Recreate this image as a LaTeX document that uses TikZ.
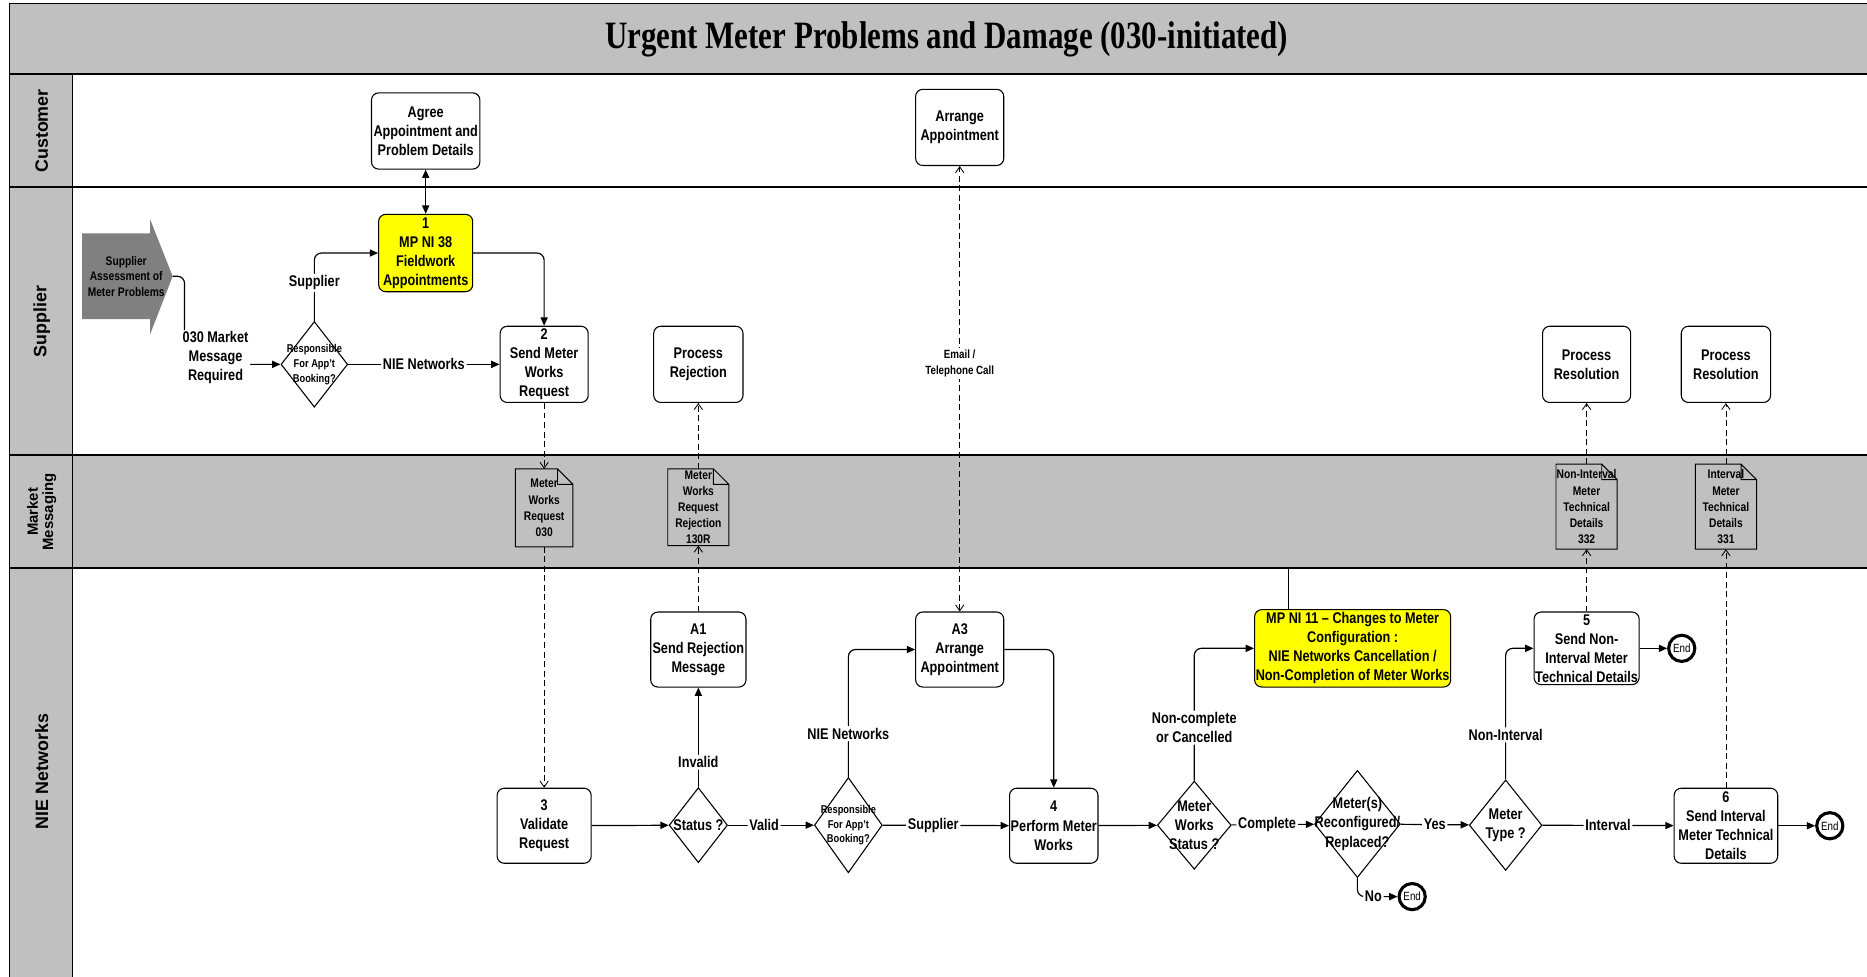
\documentclass[tikz,border=0pt]{standalone}
\usepackage{fontspec}
\setmainfont{Liberation Sans}[FakeStretch=0.82]
\newfontfamily\lanefont{Liberation Sans}
\newfontfamily\titlefont{Liberation Serif}[FakeStretch=0.8]
\usepackage{tikz}
\usetikzlibrary{shapes.geometric,positioning,arrows.meta}
\definecolor{lanegray}{RGB}{192,192,192}
\definecolor{startgray}{RGB}{128,128,128}
\definecolor{keyyellow}{RGB}{255,255,0}
\tikzset{
  mtr task/.style={rectangle, rounded corners=6pt, draw, line width=0.9pt, fill=white, align=center, inner sep=1pt, font=\fontsize{13}{16}\selectfont\bfseries},
  mtr key/.style={mtr task, fill=keyyellow},
  mtr decision/.style={diamond, draw, line width=0.9pt, fill=white, inner sep=0pt},
  mtr dectext/.style={align=center, inner sep=0pt, font=\fontsize{13}{16}\selectfont\bfseries},
  mtr small/.style={align=center, inner sep=0pt, font=\fontsize{9.5}{12.5}\selectfont\bfseries},
  mtr doc/.style={rectangle, fill=lanegray, align=center, inner sep=0pt, font=\fontsize{10.5}{13.5}\selectfont\bfseries},
  mtr end/.style={circle, draw, line width=2.6pt, fill=white, minimum size=22pt, inner sep=0pt, font=\fontsize{10}{12}\selectfont},
  mtr label/.style={fill=white, inner sep=1.5pt, align=center, font=\fontsize{13}{16}\selectfont\bfseries},
  mtr flow/.style={draw, line width=1pt, rounded corners=6pt, >={Triangle[length=7pt,width=6pt]}, ->},
  mtr msg/.style={draw, line width=0.7pt, dash pattern=on 5pt off 3pt, >={Straight Barb[length=5pt,width=7pt]}, ->},
  mtr lane/.style={rotate=90, align=center, font=\lanefont\bfseries}
}

\begin{document}
\begin{tikzpicture}[x=1pt, y=-1pt]
    \useasboundingbox (0,0) rectangle (1568,820);

    % Title
    \fill[lanegray] (8,3) rectangle (1570,62);
    \node[font=\titlefont\fontsize{32.5}{33}\selectfont\bfseries] (Title) at (795,33) {Urgent Meter Problems and Damage (030-initiated)};

    % Swim lanes
    \fill[lanegray] (8,62) rectangle (61,822);
    \fill[lanegray] (61,382) rectangle (1570,477);
    \draw[line width=1pt] (8,822) -- (8,3) -- (1570,3);
    \draw[line width=1.6pt] (8,62) -- (1570,62);
    \foreach \y in {157,382,477}
        \draw[line width=1.4pt] (8,\y) -- (1570,\y);
    \draw[line width=1pt] (61,62) -- (61,822);
    \node[mtr lane, font=\lanefont\fontsize{15}{15}\selectfont\bfseries] (LaneCust) at (35,110) {Customer};
    \node[mtr lane, font=\lanefont\fontsize{15}{15}\selectfont\bfseries] (LaneSupp) at (35,270) {Supplier};
    \node[mtr lane, font=\lanefont\fontsize{12.5}{13}\selectfont\bfseries] (LaneMsg) at (35,430) {Market\\Messaging};
    \node[mtr lane, font=\lanefont\fontsize{15}{15}\selectfont\bfseries] (LaneNie) at (35,648) {NIE Networks};

    % Customer
    \node[mtr task, minimum width=91, minimum height=64] (Agree) at (357.5,110) {Agree\\Appointment and\\Problem Details};
    \node[mtr task, minimum width=74, minimum height=64] (ArrCust) at (806,107) {Arrange\\Appointment};

    % Supplier
    \fill[startgray] (69,196) -- (126,196) -- (126,184) -- (145,232) -- (126,281) -- (126,268) -- (69,268) -- cycle;
    \node[mtr small, font=\fontsize{10.5}{13}\selectfont\bfseries] (Start) at (106,232) {Supplier\\Assessment of\\Meter Problems};
    \coordinate (StartTip) at (145,232);
    \node[mtr key, minimum width=79, minimum height=65] (Fw) at (357.5,212.5) {1\\MP NI 38\\Fieldwork\\Appointments};
    \node[mtr decision, minimum width=56, minimum height=72, label={[mtr small]center:{Responsible\\For App't\\Booking?}}] (Resp1) at (264,306) {};
    \node[mtr task, minimum width=74, minimum height=64] (Swr) at (457,306) {2\\Send Meter\\Works\\Request};
    \node[mtr task, minimum width=75, minimum height=64] (ProcRej) at (586.5,306) {Process\\Rejection};
    \node[mtr task, minimum width=74, minimum height=64] (ProcRes1) at (1332.5,306) {Process\\Resolution};
    \node[mtr task, minimum width=75, minimum height=64] (ProcRes2) at (1449.5,306) {Process\\Resolution};

    % Market messages
    \node[mtr doc, minimum width=48, minimum height=65] (Msg030) at (457,426.5) {Meter\\Works\\Request\\030};
    \node[mtr doc, minimum width=51, minimum height=64] (Msg130R) at (586.5,426) {Meter\\Works\\Request\\Rejection\\130R};
    \node[mtr doc, minimum width=51, minimum height=71] (Msg332) at (1332.5,425.5) {Non-Interval\\Meter\\Technical\\Details\\332};
    \node[mtr doc, minimum width=51, minimum height=71] (Msg331) at (1449.5,425.5) {Interval\\Meter\\Technical\\Details\\331};
    \foreach \m in {Msg030,Msg130R,Msg332,Msg331}
        \draw[line width=0.8pt] (\m.north west) -- ([xshift=-13pt]\m.north east) -- ([yshift=-13pt]\m.north east)
            -- (\m.south east) -- (\m.south west) -- cycle
            ([xshift=-13pt]\m.north east) -- ([xshift=-13pt,yshift=-13pt]\m.north east) -- ([yshift=-13pt]\m.north east);

    % NIE Networks
    \node[mtr task, minimum width=79, minimum height=63] (Val) at (457,693.5) {3\\Validate\\Request};
    \node[mtr decision, minimum width=49, minimum height=63, label={[mtr dectext]center:Status ?}] (Stat) at (586.5,693) {};
    \node[mtr task, minimum width=80, minimum height=63] (Rej) at (586.5,545.5) {A1\\Send Rejection\\Message};
    \node[mtr decision, minimum width=57, minimum height=80, label={[mtr small]center:{Responsible\\For App't\\Booking?}}] (Resp2) at (712.5,693) {};
    \node[mtr task, minimum width=74, minimum height=63] (Arr) at (806,545.5) {A3\\Arrange\\Appointment};
    \node[mtr task, minimum width=74, minimum height=63] (Perf) at (885,693.5) {4\\Perform Meter\\Works};
    \node[mtr decision, minimum width=62, minimum height=74, label={[mtr dectext]center:{Meter\\Works\\Status ?}}] (Mws) at (1003,693) {};
    \node[mtr key, minimum width=160, minimum height=65] (Chg) at (1136,544.5) {MP NI 11 – Changes to Meter\\Configuration :\\NIE Networks Cancellation /\\Non-Completion of Meter Works};
    \coordinate (ChgTop) at (1082,477);
    \node[mtr decision, minimum width=72, minimum height=90, label={[mtr dectext]center:{Meter(s)\\Reconfigured/\\Replaced?}}] (Reconf) at (1140,692) {};
    \node[mtr end] (EndNo) at (1186,753) {End};
    \node[mtr decision, minimum width=61, minimum height=76, label={[mtr dectext]center:{Meter\\Type ?}}] (Type) at (1264.5,693) {};
    \node[mtr task, minimum width=87, minimum height=61] (NonInt) at (1332.5,544.5) {5\\Send Non-\\Interval Meter\\Technical Details};
    \node[mtr task, minimum width=87, minimum height=63] (Int) at (1449.5,693.5) {6\\Send Interval\\Meter Technical\\Details};
    \node[mtr end, right=23pt of NonInt] (End5) {End};
    \node[mtr end, right=31pt of Int] (End6) {End};

    % Connections
    \draw[mtr flow, <->] (Agree) -- (Fw);
    \draw[mtr flow] (StartTip) -- ++(10,0) |- (Resp1.west)
        node[mtr label, at={(181,300)}] (MsgReq) {030 Market\\Message\\Required};
    \draw[mtr flow] (Resp1.north) |- (Fw.west) node[mtr label, pos=0.28] {Supplier};
    \draw[mtr flow] (Resp1) -- (Swr) node[mtr label, midway] {NIE Networks};
    \draw[mtr flow] (Fw.east) -| (Swr.north);
    \draw[mtr flow] (Val) -- (Stat);
    \draw[mtr flow] (Stat) -- (Rej) node[mtr label, pos=0.25] {Invalid};
    \draw[mtr flow] (Stat) -- (Resp2) node[mtr label, pos=0.42] {Valid};
    \draw[mtr flow] (Resp2.north) |- (Arr.west) node[mtr label, pos=0.17] {NIE Networks};
    \draw[mtr flow] (Resp2) -- (Perf) node[mtr label, pos=0.4] {Supplier};
    \draw[mtr flow] (Arr.east) -| (Perf.north);
    \draw[mtr flow] (Perf) -- (Mws);
    \draw[mtr flow] (Mws.north) |- (Chg.west) node[mtr label, pos=0.2] {Non-complete\\or Cancelled};
    \draw[line width=0.9pt] (Chg.north -| ChgTop) -- (ChgTop);
    \draw[mtr flow] (Mws) -- (Reconf) node[mtr label, pos=0.43] {Complete};
    \draw[mtr flow] (Reconf.south) |- (EndNo.west) node[mtr label, pos=0.7] {No};
    \draw[mtr flow] (Reconf) -- (Type) node[mtr label, midway] {Yes};
    \draw[mtr flow] (Type.north) |- (NonInt.west) node[mtr label, pos=0.17] {Non-Interval};
    \draw[mtr flow] (Type) -- (Int) node[mtr label, midway] {Interval};
    \draw[mtr flow] (NonInt) -- (End5);
    \draw[mtr flow] (Int) -- (End6);

    % Message flows
    \draw[mtr msg] (Swr) -- (Msg030);
    \draw[mtr msg] (Msg030) -- (Val);
    \draw[mtr msg] (Rej) -- (Msg130R);
    \draw[mtr msg] (Msg130R) -- (ProcRej);
    \draw[mtr msg, <->] (Arr) -- (ArrCust)
        node[mtr label, pos=0.557, font=\fontsize{10}{14}\selectfont\bfseries] {Email /\\Telephone Call};
    \draw[mtr msg] (NonInt) -- (Msg332);
    \draw[mtr msg] (Msg332) -- (ProcRes1);
    \draw[mtr msg] (Int) -- (Msg331);
    \draw[mtr msg] (Msg331) -- (ProcRes2);
\end{tikzpicture}
\end{document}
